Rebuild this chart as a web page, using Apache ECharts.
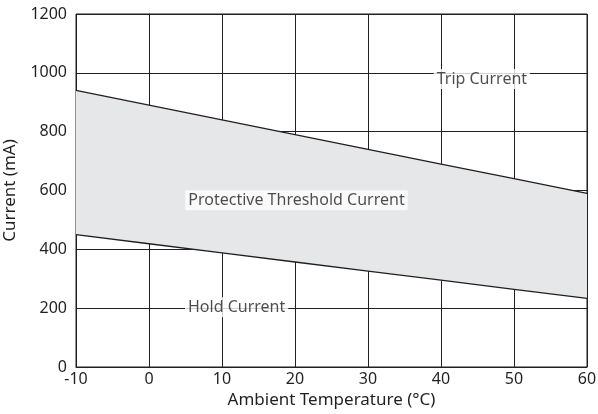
<!DOCTYPE html>
<html><head><meta charset="utf-8">
<script src="https://cdn.jsdelivr.net/npm/echarts@6/dist/echarts.min.js"></script>
<style>html,body{margin:0;padding:0;background:#fff}#c{width:598px;height:414px}</style>
</head><body><div id="c"></div>
<script>
const temps = [-10, 0, 10, 20, 30, 40, 50, 60];
const tripCurrent = [940, 890, 840, 790, 740, 690, 640, 590];
const holdCurrent = [450, 419, 388, 357, 326, 295, 264, 233];
const xTicks = [-10, 0, 10, 20, 30, 40, 50, 60];
const yTicks = [0, 200, 400, 600, 800, 1000, 1200];
const labelNames = ['Trip Current', 'Protective Threshold Current', 'Hold Current'];
const labelTemps = [45.6, 20.2, 12];
const labelCurrents = [979, 567, 203];

const F = '"Noto Sans", sans-serif';
const txt = '#231f20';
const chart = echarts.init(document.getElementById('c'));
const pair = (arr) => temps.map((t, i) => [t, arr[i]]);

chart.setOption({
  animation: false,
  grid: {left: 76, right: 11, top: 14, bottom: 47, show: true, borderColor: '#231f20', borderWidth: 1,
         containLabel: false, outerBoundsMode: 'none'},
  xAxis: {
    type: 'value', min: xTicks[0], max: xTicks[xTicks.length - 1], interval: 10,
    name: 'Ambient Temperature (°C)', nameLocation: 'middle', nameGap: 24,
    nameTextStyle: {fontFamily: F, fontSize: 17, color: txt},
    axisLine: {show: true, lineStyle: {color: '#231f20'}},
    axisTick: {show: false},
    axisLabel: {fontFamily: F, fontSize: 16, color: txt, margin: 4},
    splitLine: {show: true, lineStyle: {color: '#231f20', width: 1}}
  },
  yAxis: {
    type: 'value', min: yTicks[0], max: yTicks[yTicks.length - 1], interval: 200,
    name: 'Current (mA)', nameLocation: 'middle', nameGap: 57,
    nameTextStyle: {fontFamily: F, fontSize: 17, color: txt},
    axisLine: {show: true, lineStyle: {color: '#231f20'}},
    axisTick: {show: false},
    axisLabel: {fontFamily: F, fontSize: 16, color: txt, margin: 9, formatter: v => String(v)},
    splitLine: {show: true, lineStyle: {color: '#231f20', width: 1}}
  },
  series: [
    {type: 'custom', z: 1, silent: true, data: [0],
     renderItem: function (params, api) {
       const pts = [];
       temps.forEach((t, i) => pts.push(api.coord([t, tripCurrent[i]])));
       for (let i = temps.length - 1; i >= 0; i--) pts.push(api.coord([temps[i], holdCurrent[i]]));
       return {type: 'polygon', shape: {points: pts}, style: {fill: '#e6e7e8'}};
     }},
    {type: 'line', data: pair(tripCurrent), symbol: 'none', lineStyle: {color: '#231f20', width: 1.3}, z: 5},
    {type: 'line', data: pair(holdCurrent), symbol: 'none', lineStyle: {color: '#231f20', width: 1.3}, z: 5},
    {type: 'scatter', symbolSize: 0, z: 10,
     data: labelNames.map((n, i) => ({name: n, value: [labelTemps[i], labelCurrents[i]]})),
     label: {show: true, position: 'inside', formatter: '{b}', fontFamily: F, fontSize: 16, color: txt,
             backgroundColor: '#fff', padding: [2, 3, 2, 3]}}
  ]
});
</script></body></html>
